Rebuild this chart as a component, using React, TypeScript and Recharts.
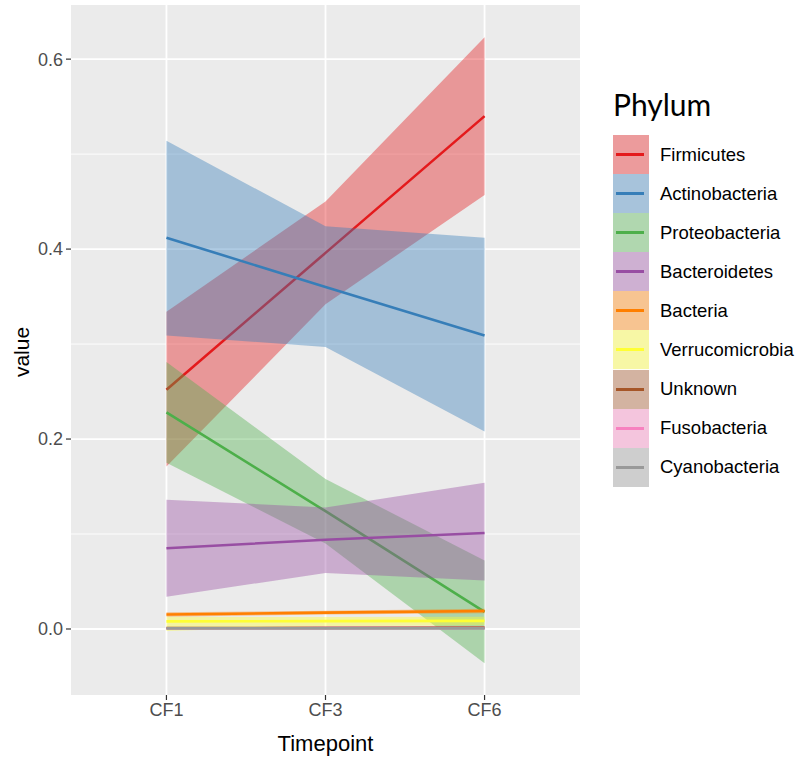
import { ComposedChart, Area, Line, XAxis, YAxis, CartesianGrid, Label } from "recharts";

const timepoints = ["CF1", "CF3", "CF6"];
const yTicks = [0, 0.2, 0.4, 0.6];
const yMinor = [0.1, 0.3, 0.5];

const phyla = [
  "Firmicutes",
  "Actinobacteria",
  "Proteobacteria",
  "Bacteroidetes",
  "Bacteria",
  "Verrucomicrobia",
  "Unknown",
  "Fusobacteria",
  "Cyanobacteria",
];
const colors = ["#E41A1C", "#377EB8", "#4DAF4A", "#984EA3", "#FF7F00", "#FFFF33", "#A65628", "#F781BF", "#999999"];

// fitted line + confidence band per phylum, read at CF1 / CF3 / CF6
const firmicutesFit = [0.252, 0.396, 0.54];
const firmicutesLow = [0.171, 0.342, 0.457];
const firmicutesHigh = [0.334, 0.45, 0.623];

const actinoFit = [0.412, 0.36, 0.309];
const actinoLow = [0.309, 0.297, 0.208];
const actinoHigh = [0.514, 0.424, 0.412];

const proteoFit = [0.228, 0.124, 0.018];
const proteoLow = [0.175, 0.09, -0.036];
const proteoHigh = [0.281, 0.158, 0.072];

const bacteroFit = [0.085, 0.094, 0.101];
const bacteroLow = [0.034, 0.059, 0.051];
const bacteroHigh = [0.136, 0.128, 0.154];

const bacteriaFit = [0.0153, 0.0172, 0.019];
const bacteriaLow = [0.0128, 0.0152, 0.0165];
const bacteriaHigh = [0.0176, 0.0192, 0.0212];

const verrucoFit = [0.008, 0.0083, 0.0085];
const verrucoLow = [-0.002, 0.003, 0.004];
const verrucoHigh = [0.013, 0.0125, 0.013];

const unknownFit = [0.001, 0.0012, 0.0014];
const unknownLow = [0.0003, 0.0006, 0.0005];
const unknownHigh = [0.0017, 0.0018, 0.0023];

const fusoFit = [0.0008, 0.0009, 0.001];
const fusoLow = [0.0002, 0.0005, 0.0003];
const fusoHigh = [0.0014, 0.0013, 0.0017];

const cyanoFit = [0.0006, 0.0007, 0.0007];
const cyanoLow = [0.0001, 0.0003, 0.0002];
const cyanoHigh = [0.0011, 0.0011, 0.0012];

const fits = [firmicutesFit, actinoFit, proteoFit, bacteroFit, bacteriaFit, verrucoFit, unknownFit, fusoFit, cyanoFit];
const lows = [firmicutesLow, actinoLow, proteoLow, bacteroLow, bacteriaLow, verrucoLow, unknownLow, fusoLow, cyanoLow];
const highs = [firmicutesHigh, actinoHigh, proteoHigh, bacteroHigh, bacteriaHigh, verrucoHigh, unknownHigh, fusoHigh, cyanoHigh];

const rows = timepoints.map((t, i) => {
  const row: Record<string, any> = { x: i + 1, label: t };
  phyla.forEach((p, k) => {
    row[p] = fits[k][i];
    row[p + "_band"] = [lows[k][i], highs[k][i]];
  });
  return row;
});

const font = "'Liberation Sans', Arial, sans-serif";

const PhylumLegend = () => (
  <div style={{ position: "absolute", left: 613, top: 84, fontFamily: font, color: "#000" }}>
    <div style={{ fontFamily: "Lato, sans-serif", fontSize: 30, height: 51, lineHeight: "40px" }}>Phylum</div>
    {phyla.map((p, k) => (
      <div key={p} style={{ display: "flex", alignItems: "center", height: 39.1 }}>
        <svg width={36} height={39.1} style={{ display: "block" }}>
          <rect x={0} y={0} width={36} height={39.1} fill="#F2F2F2" />
          <rect x={0} y={0} width={36} height={39.1} fill={colors[k]} fillOpacity={0.4} />
          <line x1={3} x2={31} y1={19.5} y2={19.5} stroke={colors[k]} strokeWidth={3} />
        </svg>
        <span style={{ marginLeft: 11, fontSize: 18.5 }}>{p}</span>
      </div>
    ))}
  </div>
);

export default function App() {
  return (
    <div style={{ position: "absolute", left: 0, top: 0, width: 800, height: 761, background: "#fff", fontFamily: font }}>
      <ComposedChart width={800} height={761} data={rows} margin={{ top: 5, right: 220, bottom: 0, left: 0 }}>
        <CartesianGrid
          fill="#EBEBEB"
          stroke="#FFFFFF"
          strokeWidth={0.9}
          horizontalValues={yMinor}
          vertical={false}
        />
        <CartesianGrid
          stroke="#FFFFFF"
          strokeWidth={1.8}
          horizontalValues={yTicks}
          verticalValues={[1, 2, 3]}
        />
        <XAxis
          type="number"
          dataKey="x"
          domain={[0.4, 3.6]}
          ticks={[1, 2, 3]}
          tickFormatter={(v: number) => timepoints[v - 1]}
          allowDataOverflow
          height={66}
          axisLine={false}
          tickLine={{ stroke: "#333333", strokeWidth: 1.2 }}
          tickSize={5}
          tick={{ fill: "#4D4D4D", fontSize: 18, fontFamily: font }}
          tickMargin={3}
        >
          <Label value="Timepoint" position="insideBottom" offset={10} style={{ fill: "#000", fontSize: 22, fontFamily: font }} />
        </XAxis>
        <YAxis
          type="number"
          domain={[-0.0695, 0.657]}
          ticks={yTicks}
          tickFormatter={(v: number) => v.toFixed(1)}
          allowDataOverflow
          width={71}
          axisLine={false}
          tickLine={{ stroke: "#333333", strokeWidth: 1.2 }}
          tickSize={5}
          tick={{ fill: "#4D4D4D", fontSize: 18, fontFamily: font }}
          tickMargin={3}
        />
        {phyla.flatMap((p, k) => [
          <Area
            key={p + "_band"}
            type="linear"
            dataKey={p + "_band"}
            stroke="none"
            fill={colors[k]}
            fillOpacity={0.4}
            isAnimationActive={false}
            activeDot={false}
            zIndex={100 + k * 2}
          />,
          <Line
            key={p}
            type="linear"
            dataKey={p}
            stroke={colors[k]}
            strokeWidth={2.6}
            dot={false}
            activeDot={false}
            isAnimationActive={false}
            zIndex={101 + k * 2}
          />,
        ])}
      </ComposedChart>
      <div
        style={{
          position: "absolute",
          left: 22,
          top: 352,
          transform: "translate(-50%, -50%) rotate(-90deg)",
          fontSize: 21,
          color: "#000",
          whiteSpace: "nowrap",
        }}
      >
        value
      </div>
      <PhylumLegend />
    </div>
  );
}
